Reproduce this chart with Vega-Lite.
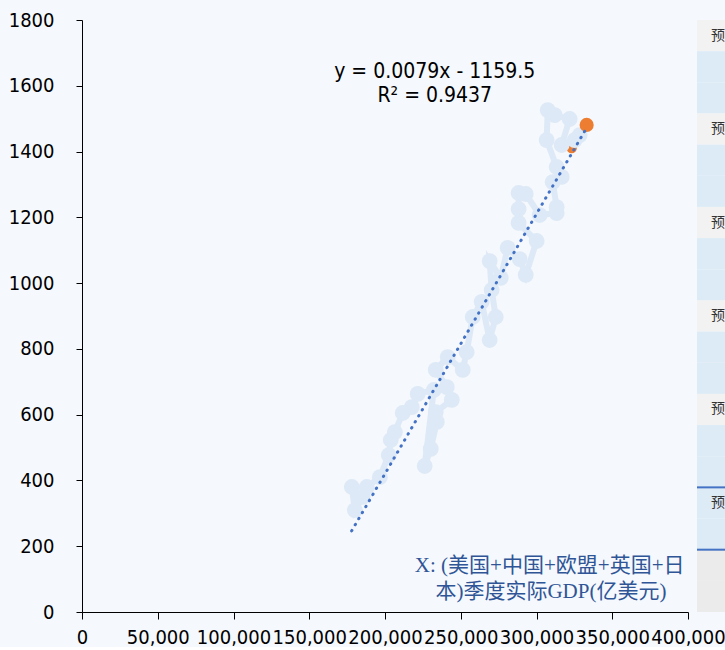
{
  "$schema": "https://vega.github.io/schema/vega-lite/v6.json",
  "background": "#f5f8fc",
  "padding": {"left": 8, "top": 10, "right": 0, "bottom": 0},
  "bounds": "flush",
  "spacing": 9,
  "config": {
    "view": {"stroke": null},
    "font": "DejaVu Sans Condensed",
    "axis": {"grid": false, "domainColor": "#000000", "tickColor": "#000000", "labelColor": "#000000", "labelFont": "DejaVu Sans Condensed", "labelFontSize": 20, "title": null}
  },
  "datasets": {
    "series": [
      {"i": 1, "gdp": 178100, "val": 380},
      {"i": 2, "gdp": 180100, "val": 310},
      {"i": 3, "gdp": 185300, "val": 350},
      {"i": 4, "gdp": 188000, "val": 380},
      {"i": 5, "gdp": 196600, "val": 410},
      {"i": 6, "gdp": 202500, "val": 477},
      {"i": 7, "gdp": 203800, "val": 523},
      {"i": 8, "gdp": 206500, "val": 547},
      {"i": 9, "gdp": 211700, "val": 605},
      {"i": 10, "gdp": 217700, "val": 623},
      {"i": 11, "gdp": 221600, "val": 663},
      {"i": 12, "gdp": 232200, "val": 675},
      {"i": 13, "gdp": 226200, "val": 444},
      {"i": 14, "gdp": 230200, "val": 496},
      {"i": 15, "gdp": 234200, "val": 578},
      {"i": 16, "gdp": 233500, "val": 608},
      {"i": 17, "gdp": 244100, "val": 645},
      {"i": 18, "gdp": 240800, "val": 684},
      {"i": 19, "gdp": 233500, "val": 736},
      {"i": 20, "gdp": 241400, "val": 775},
      {"i": 21, "gdp": 251300, "val": 736},
      {"i": 22, "gdp": 253900, "val": 790},
      {"i": 23, "gdp": 257900, "val": 897},
      {"i": 24, "gdp": 263800, "val": 943},
      {"i": 25, "gdp": 269100, "val": 827},
      {"i": 26, "gdp": 273100, "val": 897},
      {"i": 27, "gdp": 270400, "val": 979},
      {"i": 28, "gdp": 269100, "val": 1067},
      {"i": 29, "gdp": 276400, "val": 1016},
      {"i": 30, "gdp": 281000, "val": 1107},
      {"i": 31, "gdp": 288900, "val": 1073},
      {"i": 32, "gdp": 292900, "val": 1025},
      {"i": 33, "gdp": 300100, "val": 1128},
      {"i": 34, "gdp": 288200, "val": 1183},
      {"i": 35, "gdp": 288200, "val": 1225},
      {"i": 36, "gdp": 288200, "val": 1274},
      {"i": 37, "gdp": 292900, "val": 1271},
      {"i": 38, "gdp": 302100, "val": 1207},
      {"i": 39, "gdp": 313300, "val": 1213},
      {"i": 40, "gdp": 313300, "val": 1231},
      {"i": 41, "gdp": 310700, "val": 1307},
      {"i": 42, "gdp": 316600, "val": 1323},
      {"i": 43, "gdp": 313300, "val": 1353},
      {"i": 44, "gdp": 306700, "val": 1435},
      {"i": 45, "gdp": 307400, "val": 1526},
      {"i": 46, "gdp": 312000, "val": 1511},
      {"i": 47, "gdp": 321900, "val": 1499},
      {"i": 48, "gdp": 316600, "val": 1420},
      {"i": 49, "gdp": 325200, "val": 1435},
      {"i": 50, "gdp": 328500, "val": 1450}
    ],
    "latest": [
      {"gdp": 323200, "val": 1411, "layer": "hidden"},
      {"gdp": 333100, "val": 1481, "layer": "top"}
    ],
    "trend": [
      {"gdp": 178000, "val": 246.7},
      {"gdp": 333000, "val": 1471.2}
    ],
    "sheet": [
      {"row": 0, "kind": "gray", "label": "预"},
      {"row": 1, "kind": "blue", "label": ""},
      {"row": 2, "kind": "blue", "label": ""},
      {"row": 3, "kind": "gray", "label": "预"},
      {"row": 4, "kind": "blue", "label": ""},
      {"row": 5, "kind": "blue", "label": ""},
      {"row": 6, "kind": "gray", "label": "预"},
      {"row": 7, "kind": "blue", "label": ""},
      {"row": 8, "kind": "blue", "label": ""},
      {"row": 9, "kind": "gray", "label": "预"},
      {"row": 10, "kind": "blue", "label": ""},
      {"row": 11, "kind": "blue", "label": ""},
      {"row": 12, "kind": "gray", "label": "预"},
      {"row": 13, "kind": "blue", "label": ""},
      {"row": 14, "kind": "blue", "label": ""},
      {"row": 15, "kind": "sel", "label": "预"},
      {"row": 16, "kind": "sel", "label": ""},
      {"row": 17, "kind": "gray2", "label": ""},
      {"row": 18, "kind": "gray2", "label": ""}
    ],
    "borders": [
      {"row": 15},
      {"row": 17}
    ]
  },
  "hconcat": [
    {
      "width": 606,
      "height": 592,
      "layer": [
        {
          "data": {"name": "latest"},
          "transform": [{"filter": "datum.layer === 'hidden'"}],
          "mark": {"type": "circle", "size": 110, "opacity": 1, "color": "#ED7D31"},
          "encoding": {
            "x": {"field": "gdp", "type": "quantitative", "scale": {"domain": [0, 400000], "nice": false, "zero": false},
                  "axis": {"values": [0, 50000, 100000, 150000, 200000, 250000, 300000, 350000, 400000], "format": ",d", "labelFlush": false, "labelOverlap": false, "tickSize": 7, "labelPadding": 8}},
            "y": {"field": "val", "type": "quantitative", "scale": {"domain": [0, 1800], "nice": false},
                  "axis": {"values": [0, 200, 400, 600, 800, 1000, 1200, 1400, 1600, 1800], "format": "d", "labelFlush": false, "labelOverlap": false, "tickSize": 6, "labelPadding": 22}}
          }
        },
        {
          "data": {"name": "series"},
          "mark": {"type": "line", "color": "#dde9f6", "strokeWidth": 6},
          "encoding": {
            "x": {"field": "gdp", "type": "quantitative"},
            "y": {"field": "val", "type": "quantitative"},
            "order": {"field": "i", "type": "quantitative"}
          }
        },
        {
          "data": {"name": "series"},
          "mark": {"type": "circle", "size": 250, "opacity": 1, "color": "#dde9f6"},
          "encoding": {
            "x": {"field": "gdp", "type": "quantitative"},
            "y": {"field": "val", "type": "quantitative"}
          }
        },
        {
          "data": {"name": "latest"},
          "transform": [{"filter": "datum.layer === 'top'"}],
          "mark": {"type": "circle", "size": 200, "opacity": 1, "color": "#ED7D31"},
          "encoding": {
            "x": {"field": "gdp", "type": "quantitative"},
            "y": {"field": "val", "type": "quantitative"}
          }
        },
        {
          "data": {"name": "trend"},
          "mark": {"type": "line", "color": "#4472C4", "strokeWidth": 3, "strokeDash": [0.5, 6.5], "strokeCap": "round"},
          "encoding": {
            "x": {"field": "gdp", "type": "quantitative"},
            "y": {"field": "val", "type": "quantitative"}
          }
        },
        {
          "data": {"values": [{"t": "y = 0.0079x - 1159.5"}]},
          "mark": {"type": "text", "font": "DejaVu Sans Condensed", "fontSize": 21, "color": "#000000", "align": "center", "baseline": "middle"},
          "encoding": {
            "x": {"datum": 232840, "type": "quantitative"},
            "y": {"datum": 1642, "type": "quantitative"},
            "text": {"field": "t"}
          }
        },
        {
          "data": {"values": [{"t": "R² = 0.9437"}]},
          "mark": {"type": "text", "font": "DejaVu Sans Condensed", "fontSize": 21, "color": "#000000", "align": "center", "baseline": "middle"},
          "encoding": {
            "x": {"datum": 232840, "type": "quantitative"},
            "y": {"datum": 1569, "type": "quantitative"},
            "text": {"field": "t"}
          }
        },
        {
          "data": {"values": [{"t": "X:   (美国+中国+欧盟+英国+日"}]},
          "mark": {"type": "text", "font": "Liberation Serif, Noto Sans CJK SC", "fontSize": 21, "color": "#2F5597", "align": "center", "baseline": "middle"},
          "encoding": {
            "x": {"datum": 308700, "type": "quantitative"},
            "y": {"datum": 140, "type": "quantitative"},
            "text": {"field": "t"}
          }
        },
        {
          "data": {"values": [{"t": "本)季度实际GDP(亿美元)"}]},
          "mark": {"type": "text", "font": "Liberation Serif, Noto Sans CJK SC", "fontSize": 21, "color": "#2F5597", "align": "center", "baseline": "middle"},
          "encoding": {
            "x": {"datum": 309500, "type": "quantitative"},
            "y": {"datum": 60, "type": "quantitative"},
            "text": {"field": "t"}
          }
        }
      ]
    },
    {
      "width": 28,
      "height": 592,
      "layer": [
        {
          "data": {"name": "sheet"},
          "mark": {"type": "rect"},
          "encoding": {
            "y": {"field": "row", "type": "ordinal", "scale": {"paddingInner": 0, "paddingOuter": 0}, "axis": null},
            "x": {"datum": 0, "type": "quantitative", "scale": {"domain": [0, 1], "nice": false}, "axis": null},
            "x2": {"datum": 1},
            "color": {"field": "kind", "type": "nominal", "scale": {"domain": ["blue", "gray", "sel", "gray2"], "range": ["#DDEBF7", "#F2F2F2", "#DDEBF7", "#EBEBEB"]}, "legend": null}
          }
        },
        {
          "data": {"name": "sheet"},
          "mark": {"type": "text", "align": "left", "baseline": "middle", "fontSize": 14, "font": "Noto Sans CJK SC", "color": "#333333"},
          "encoding": {
            "y": {"field": "row", "type": "ordinal"},
            "x": {"datum": 0.5, "type": "quantitative"},
            "text": {"field": "label"}
          }
        },
        {
          "data": {"name": "borders"},
          "mark": {"type": "rule", "color": "#4472C4", "strokeWidth": 2},
          "encoding": {
            "y": {"field": "row", "type": "ordinal", "bandPosition": 0},
            "x": {"datum": 0, "type": "quantitative"},
            "x2": {"datum": 1}
          }
        }
      ]
    }
  ]
}
